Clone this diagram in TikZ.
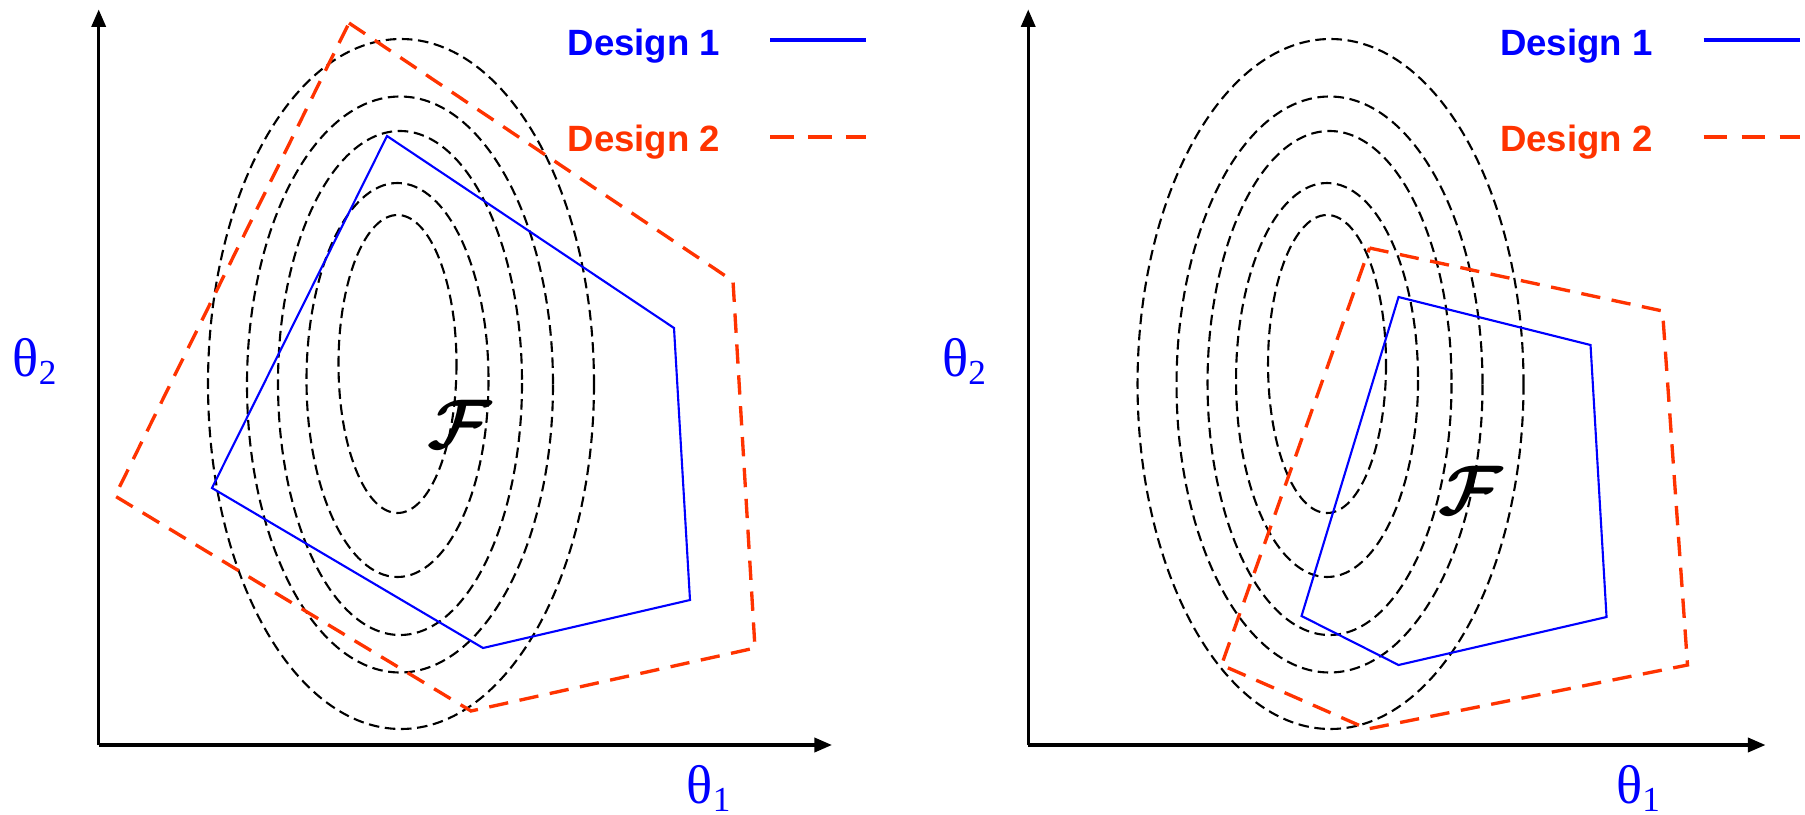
\documentclass[tikz,border=0pt]{standalone}
\usepackage{amsmath,bm}
\usepackage{fontspec}
\setmainfont{Liberation Serif}
\newfontfamily\legendfont{Liberation Sans}
\usepackage{xcolor}
\usepackage{tikz}
\usetikzlibrary{arrows.meta}
\definecolor{designblue}{RGB}{0,0,255}
\definecolor{designred}{RGB}{255,51,0}
\newcommand{\thetasub}[1]{θ\raisebox{-2.4pt}{\fontsize{10}{10}\selectfont #1}}

\begin{document}
\begin{tikzpicture}[
  x=0.01cm,y=-0.01cm,
  axis/.style={line width=0.95pt,-{Triangle[length=5pt,width=4pt]}},
  contour/.style={line width=0.6pt,dash pattern=on 3pt off 1.6pt},
  design1/.style={draw=designblue,line width=0.6pt},
  design2/.style={draw=designred,line width=0.95pt,dash pattern=on 5.5pt off 3.3pt},
  legendtext/.style={font=\legendfont\bfseries\fontsize{10.4}{12}\selectfont,anchor=base west,inner sep=0pt},
  legendline/.style={line width=1.3pt},
  thetalabel/.style={text=designblue,font=\fontsize{15.5}{15.5}\selectfont,anchor=base west,inner sep=0pt},
  fisher/.style={scale=2,inner sep=0pt}
]
\useasboundingbox (0,0) rectangle (1805,815);

% left panel
\begin{scope}
  \coordinate (oL) at (98.7,745);
  \coordinate (ytopL) at (98.7,9.4);
  \coordinate (xendL) at (832,745);
  \draw[axis] (oL) -- (ytopL);
  \draw[axis] (oL) -- (xendL);
  \node[thetalabel] (th2L) at (12,376) {\thetasub{2}};
  \node[thetalabel] (th1L) at (686,803) {\thetasub{1}};
  % contours
  \draw[contour] (401,384) ellipse [x radius=193,y radius=345];
  \draw[contour] (400,384.5) ellipse [x radius=153,y radius=288];
  \draw[contour] (400,383) ellipse [x radius=122,y radius=252];
  \draw[contour] (397.5,380) ellipse [x radius=91,y radius=197];
  \draw[contour] (397.5,364) ellipse [x radius=59,y radius=149];
  \node[fisher] (fL) at (460,424) {$\bm{\mathcal{F}}$};
  % designs
  \draw[design1] (387,136) -- (674,328) -- (690,600) -- (483,648) -- (212,488) -- cycle;
  \draw[design2] (349,23) -- (733,281) -- (755,648) -- (471,711) -- (115,496) -- cycle;
  % legend
  \node[legendtext,text=designblue] (d1L) at (567,55) {Design 1};
  \node[legendtext,text=designred] (d2L) at (567,151) {Design 2};
  \coordinate (l1aL) at (770,40);
  \coordinate (l1bL) at (866,40);
  \coordinate (l2aL) at (770,137);
  \coordinate (l2bL) at (866,137);
  \draw[legendline,designblue] (l1aL) -- (l1bL);
  \draw[legendline,designred,dash pattern=on 6.8pt off 4pt] (l2aL) -- (l2bL);
\end{scope}

% right panel
\begin{scope}[xshift=9.29cm]
  \coordinate (oR) at (98.7,745);
  \coordinate (ytopR) at (98.7,9.4);
  \coordinate (xendR) at (836,745);
  \draw[axis] (oR) -- (ytopR);
  \draw[axis] (oR) -- (xendR);
  \node[thetalabel] (th2R) at (12,376) {\thetasub{2}};
  \node[thetalabel] (th1R) at (686,803) {\thetasub{1}};
  % contours
  \draw[contour] (401,384) ellipse [x radius=193,y radius=345];
  \draw[contour] (400,384.5) ellipse [x radius=153,y radius=288];
  \draw[contour] (400,383) ellipse [x radius=122,y radius=252];
  \draw[contour] (397.5,380) ellipse [x radius=91,y radius=197];
  \draw[contour] (397.5,364) ellipse [x radius=59,y radius=149];
  \node[fisher] (fR) at (541,490) {$\bm{\mathcal{F}}$};
  % designs
  \draw[design1] (469,297) -- (661,345) -- (677,617) -- (469,665) -- (372,616) -- cycle;
  \draw[design2] (440,248) -- (733,311) -- (758,665) -- (438,729) -- (292,665) -- cycle;
  % legend
  \node[legendtext,text=designblue] (d1R) at (570,55) {Design 1};
  \node[legendtext,text=designred] (d2R) at (570,151) {Design 2};
  \coordinate (l1aR) at (774,40);
  \coordinate (l1bR) at (870,40);
  \coordinate (l2aR) at (774,137);
  \coordinate (l2bR) at (870,137);
  \draw[legendline,designblue] (l1aR) -- (l1bR);
  \draw[legendline,designred,dash pattern=on 6.8pt off 4pt] (l2aR) -- (l2bR);
\end{scope}
\end{tikzpicture}
\end{document}
